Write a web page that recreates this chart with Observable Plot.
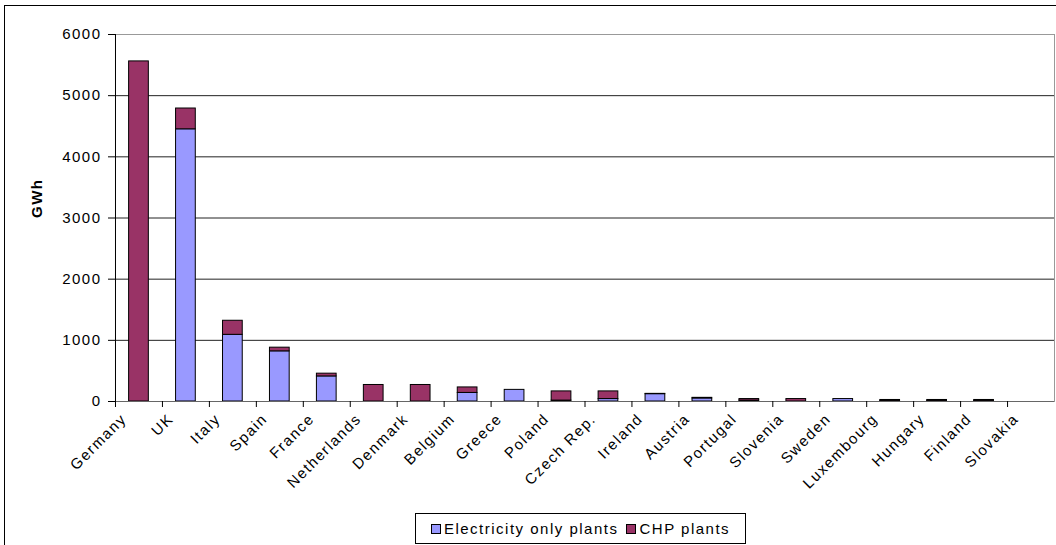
<!DOCTYPE html>
<html>
<head>
<meta charset="utf-8">
<script src="https://cdn.jsdelivr.net/npm/d3@7"></script>
<script src="https://cdn.jsdelivr.net/npm/@observablehq/plot@0.6"></script>
<style>
  body { margin: 0; background: #fff; font-family: "Liberation Sans", Arial, sans-serif; }
  #wrap { position: relative; width: 1056px; height: 545px; overflow: hidden; }
  #frame { position: absolute; left: 4px; top: 5px; width: 1100px; height: 600px; border: 1px solid #000; }
  #chart { position: absolute; left: 0; top: 0; }
  #legend {
    position: absolute; left: 415px; top: 513px; width: 329px; height: 29px;
    border: 1px solid #000; background: #fff;
    display: flex; align-items: center; justify-content: center; gap: 8px;
    font-size: 15px; letter-spacing: 1.5px; color: #000;
  }
  #legend .item { display: flex; align-items: center; gap: 3px; }
  #legend .sw { width: 8px; height: 8px; border: 1px solid #000; display: inline-block; }
</style>
</head>
<body>
<div id="wrap">
  <div id="frame"></div>
  <div id="chart"></div>
  <div id="legend"></div>
</div>
<script>
// Renewable electricity generation by country, split by plant type (GWh)
const countries = ["Germany", "UK", "Italy", "Spain", "France", "Netherlands", "Denmark", "Belgium",
  "Greece", "Poland", "Czech Rep.", "Ireland", "Austria", "Portugal", "Slovenia", "Sweden",
  "Luxembourg", "Hungary", "Finland", "Slovakia"];
const electricityOnly = [0, 4450, 1090, 820, 410, 0, 0, 140, 190, 15, 40, 120, 50, 15, 0, 40, 10, 10, 10, 0];
const chpPlants =       [5560, 340, 230, 60, 45, 270, 270, 90, 0, 150, 125, 5, 10, 25, 40, 0, 15, 15, 15, 0];
const seriesNames = ["Electricity only plants", "CHP plants"];
const seriesColors = ["#9999FF", "#993366"];
const yTicks = [0, 1000, 2000, 3000, 4000, 5000, 6000];

const rows = [];
countries.forEach((c, i) => {
  rows.push({country: c, series: seriesNames[0], value: electricityOnly[i]});
  rows.push({country: c, series: seriesNames[1], value: chpPlants[i]});
});

const W = 1056, H = 505, mL = 115, mR = 2, mT = 34, mB = 104;
const step = (W - mL - mR) / countries.length;

const chart = Plot.plot({
  width: W,
  height: H,
  marginLeft: mL,
  marginRight: mR,
  marginTop: mT,
  marginBottom: mB,
  style: {fontFamily: "'Liberation Sans', Arial, sans-serif", fontSize: "15px", letterSpacing: "1.5px", color: "#000", background: "transparent"},
  x: {domain: countries, paddingInner: 0.58, paddingOuter: 0.29, align: 0.5, round: false},
  y: {domain: [0, 6000]},
  color: {domain: seriesNames, range: seriesColors},
  marks: [
    Plot.gridY(yTicks.filter(v => v > 0 && v < 6000), {stroke: "#222", strokeOpacity: 1}),
    Plot.frame({stroke: "#999"}),
    Plot.barY(rows, Plot.stackY({x: "country", y: "value", fill: "series", stroke: "#000", strokeWidth: 1, order: seriesNames})),
    Plot.ruleY([0], {stroke: "#666"}),
    Plot.ruleX([countries[0]], {y1: 0, y2: 6000, dx: -step / 2, stroke: "#000"}),
    Plot.axisY({ticks: yTicks, tickSize: 7, tickPadding: 7, fontSize: 15, tickFormat: d3.format("d"), label: null, stroke: "#000"}),
    Plot.text(["GWh"], {frameAnchor: "left", rotate: -90, dx: -78, fontWeight: "bold", fontSize: 15}),
    Plot.axisX({tickSize: 6, tickFormat: () => "", dx: -step / 2, label: null, stroke: "#000"}),
    Plot.axisX({tickSize: 0, tickPadding: 15, dx: -15, tickRotate: -45, fontSize: 15, label: null})
  ]
});
document.getElementById("chart").appendChild(chart);

// Legend below the plot
const legend = d3.select("#legend");
seriesNames.forEach((name, i) => {
  const item = legend.append("span").attr("class", "item");
  item.append("span").attr("class", "sw").style("background", seriesColors[i]);
  item.append("span").text(name);
});
</script>
</body>
</html>
